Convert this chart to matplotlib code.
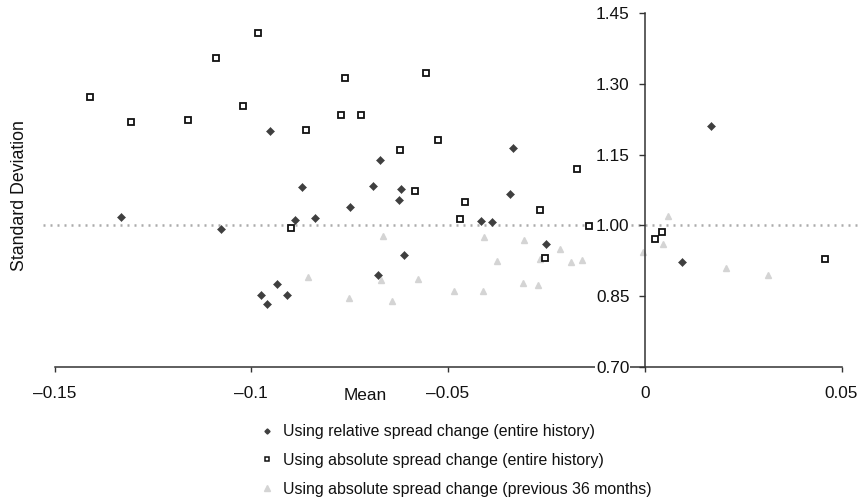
import numpy as np
import matplotlib
matplotlib.use('Agg')
import matplotlib.pyplot as plt
from matplotlib.lines import Line2D

plt.rcParams['font.family'] = ['Liberation Sans', 'DejaVu Sans']

# mean / standard deviation pairs
rel_mean = [-0.1331, -0.1077, -0.0953, -0.0872, -0.0890, -0.0839, -0.0750, -0.0691,
            -0.0672, -0.0619, -0.0624, -0.0613, -0.0679, -0.0934, -0.0974, -0.0908,
            -0.0960, -0.0334, -0.0342, -0.0417, -0.0389, -0.0250, 0.0169, 0.0094]
rel_std = [1.017, 0.993, 1.200, 1.081, 1.011, 1.016, 1.038, 1.084,
           1.139, 1.077, 1.054, 0.937, 0.895, 0.876, 0.853, 0.853,
           0.832, 1.164, 1.066, 1.009, 1.007, 0.961, 1.211, 0.922]

abs_mean = [-0.1409, -0.1305, -0.1161, -0.1089, -0.1021, -0.0983, -0.0862, -0.0773,
            -0.0762, -0.0720, -0.0621, -0.0583, -0.0555, -0.0899, -0.0525, -0.0458,
            -0.0470, -0.0266, -0.0172, -0.0143, 0.0027, 0.0043, 0.0458, -0.0254]
abs_std = [1.273, 1.220, 1.223, 1.354, 1.254, 1.407, 1.203, 1.233,
           1.312, 1.234, 1.159, 1.072, 1.324, 0.994, 1.181, 1.049,
           1.014, 1.032, 1.119, 0.999, 0.970, 0.985, 0.929, 0.930]

abs36_mean = [-0.0666, -0.0857, -0.0671, -0.0576, -0.0752, -0.0643, -0.0409, -0.0307,
              -0.0216, -0.0376, -0.0266, -0.0188, -0.0160, -0.0486, -0.0411, -0.0310,
              -0.0272, -0.0004, 0.0047, 0.0060, 0.0207, 0.0313, -0.0056]
abs36_std = [0.977, 0.890, 0.884, 0.887, 0.846, 0.839, 0.975, 0.968,
             0.950, 0.924, 0.928, 0.922, 0.926, 0.861, 0.860, 0.877,
             0.874, 0.944, 0.961, 1.019, 0.909, 0.895, 0.989]

series_labels = ['Using relative spread change (entire history)',
                 'Using absolute spread change (entire history)',
                 'Using absolute spread change (previous 36 months)']

x_ticks = [-0.15, -0.1, -0.05, 0, 0.05]
x_tick_labels = ['\u20130.15', '\u20130.1', '\u20130.05', '0', '0.05']
y_ticks = [0.70, 0.85, 1.00, 1.15, 1.30, 1.45]

fig = plt.figure(figsize=(8.62, 4.98), dpi=100)
ax = fig.add_axes([42.7 / 862, 1 - 366.7 / 498, (862 - 42.7) / 862, 353.5 / 498])

ax.axhline(1.0, color='#ababab', lw=1.8, ls=(0, (0.8, 2.0)), zorder=1)

ax.plot(abs36_mean, abs36_std, ls='none', marker='^', ms=5, color='#d4d4d4',
        mec='#d4d4d4', zorder=2, clip_on=False)
ax.plot(rel_mean, rel_std, ls='none', marker='D', ms=3.6, color='#3f3f3f',
        mec='#3f3f3f', mew=0.4, zorder=2, clip_on=False)
ax.plot(abs_mean, abs_std, ls='none', marker='s', ms=3.8, mfc='white',
        mec='#111111', mew=1.3, zorder=2, clip_on=False)

ax.set_xlim(-0.153, 0.0552)
ax.set_ylim(0.70, 1.45)

for s in ['top', 'right']:
    ax.spines[s].set_visible(False)
ax.spines['left'].set_position(('data', 0))
ax.spines['left'].set_bounds(0.70, 1.45)
ax.spines['bottom'].set_bounds(-0.15, 0.05)
for s in ['left', 'bottom']:
    ax.spines[s].set_color('#333333')
    ax.spines[s].set_linewidth(1.1)

ax.set_xticks(x_ticks)
ax.set_xticklabels(x_tick_labels)
ax.set_yticks(y_ticks)
ax.set_yticklabels(['%.2f' % v for v in y_ticks])
ax.tick_params(axis='x', direction='out', length=3.5, width=1.0, color='#333333',
               pad=10.5, labelsize=12.4, labelcolor='#111111')
ax.tick_params(axis='y', direction='out', length=4, width=1.0, color='#333333',
               pad=7, labelsize=12.4, labelcolor='#111111')
ax.set_axisbelow(False)
ax.yaxis.set_zorder(3)
for lab in ax.get_yticklabels():
    lab.set_bbox(dict(facecolor='white', edgecolor='none', pad=0.5))

ax.set_xlabel('Mean', fontsize=12.4, color='#111111')
ax.xaxis.set_label_coords((365 - 42.7) / 819.3, (366.7 - 395) / 353.5)
ax.xaxis.label.set_va('center')
ax.set_ylabel('Standard Deviation', fontsize=12.8, color='#111111')
ax.yaxis.set_label_coords((19.3 - 42.7) / 819.3, (366.7 - 196) / 353.5)
ax.yaxis.label.set_va('center')
ax.yaxis.label.set_ha('center')

handles = [
    Line2D([], [], ls='none', marker='D', ms=2.6, color='#3f3f3f'),
    Line2D([], [], ls='none', marker='s', ms=3.0, mfc='white', mec='#111111', mew=1.1),
    Line2D([], [], ls='none', marker='^', ms=4.0, color='#d4d4d4'),
]
fig.legend(handles, series_labels, loc='upper left', bbox_to_anchor=(260.7 / 862, 1 - 424.4 / 498),
           frameon=False, fontsize=11.4, handlelength=0.8, handletextpad=0.6,
           labelspacing=0.86, borderpad=0, borderaxespad=0, labelcolor='#111111')

fig.savefig('out.png', dpi=100)
